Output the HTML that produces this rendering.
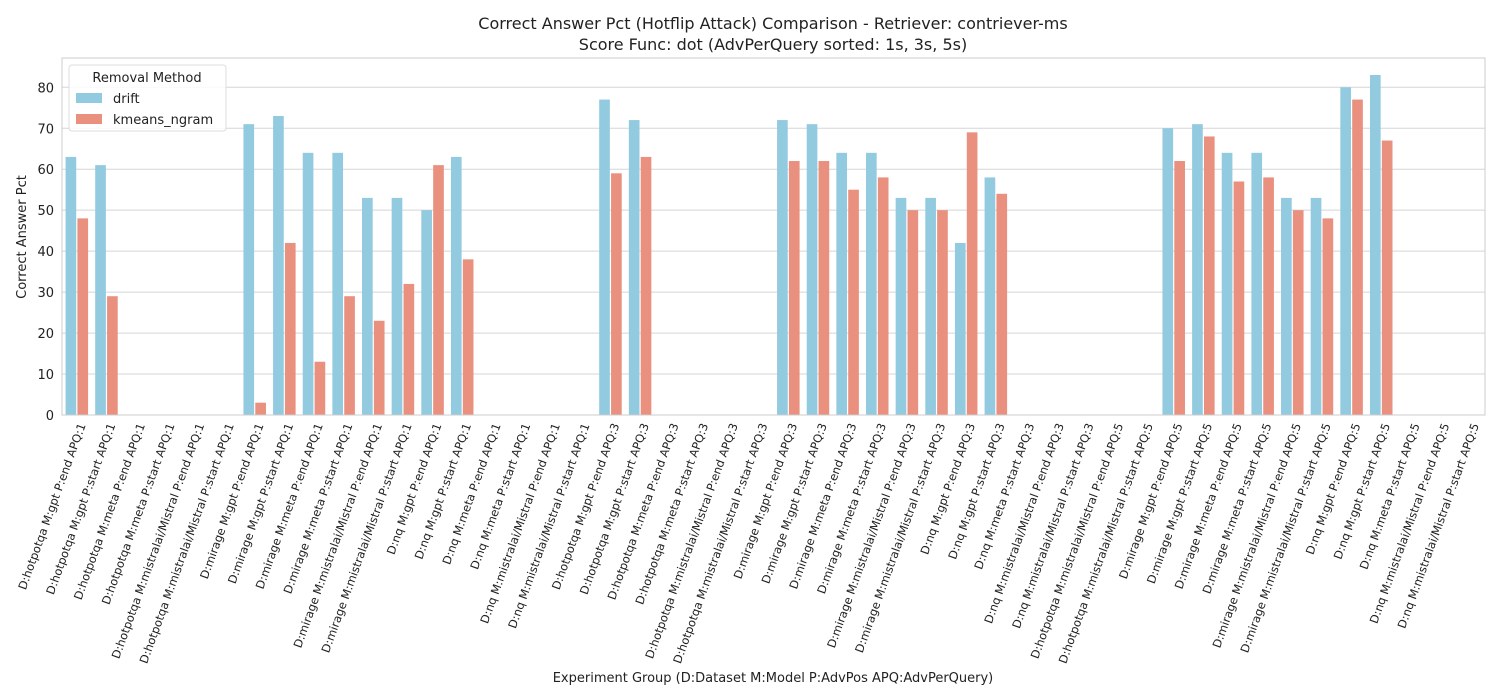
<!DOCTYPE html>
<html><head><meta charset="utf-8"><style>
body{margin:0;background:#fff;}
svg{display:block;font-family:"DejaVu Sans","Liberation Sans",sans-serif;}
</style></head><body>
<svg id="chart" width="1500" height="700" xmlns="http://www.w3.org/2000/svg">
<text x="773" y="29" font-size="16" text-anchor="middle" fill="#222">Correct Answer Pct (Hotflip Attack) Comparison - Retriever: contriever-ms</text>
<text x="773" y="50" font-size="16" text-anchor="middle" fill="#222">Score Func: dot (AdvPerQuery sorted: 1s, 3s, 5s)</text>
<g id="grid"></g><g id="bars"></g><g id="xt"></g><g id="yt"></g>
<rect x="62" y="58" width="1423" height="357" fill="none" stroke="#ccc"/>
<text transform="translate(26,237) rotate(-90)" font-size="13" text-anchor="middle" fill="#222">Correct Answer Pct</text>
<text x="773" y="682" font-size="13" text-anchor="middle" fill="#222">Experiment Group (D:Dataset M:Model P:AdvPos APQ:AdvPerQuery)</text>
<g>
<rect x="69" y="65" width="157" height="66" rx="3" fill="#fff" fill-opacity="0.85" stroke="#ddd"/>
<text x="147" y="82" font-size="13" text-anchor="middle" fill="#222">Removal Method</text>
<rect x="76" y="93" width="26" height="10" fill="#92cae0"/>
<text x="113" y="103" font-size="13" fill="#222">drift</text>
<rect x="76" y="114" width="26" height="10" fill="#e9907f"/>
<text x="113" y="124" font-size="13" fill="#222">kmeans_ngram</text>
</g>
</svg>
<script>
const categories=[
"D:hotpotqa M:gpt P:end APQ:1","D:hotpotqa M:gpt P:start APQ:1","D:hotpotqa M:meta P:end APQ:1","D:hotpotqa M:meta P:start APQ:1","D:hotpotqa M:mistralai/Mistral P:end APQ:1","D:hotpotqa M:mistralai/Mistral P:start APQ:1",
"D:mirage M:gpt P:end APQ:1","D:mirage M:gpt P:start APQ:1","D:mirage M:meta P:end APQ:1","D:mirage M:meta P:start APQ:1","D:mirage M:mistralai/Mistral P:end APQ:1","D:mirage M:mistralai/Mistral P:start APQ:1",
"D:nq M:gpt P:end APQ:1","D:nq M:gpt P:start APQ:1","D:nq M:meta P:end APQ:1","D:nq M:meta P:start APQ:1","D:nq M:mistralai/Mistral P:end APQ:1","D:nq M:mistralai/Mistral P:start APQ:1",
"D:hotpotqa M:gpt P:end APQ:3","D:hotpotqa M:gpt P:start APQ:3","D:hotpotqa M:meta P:end APQ:3","D:hotpotqa M:meta P:start APQ:3","D:hotpotqa M:mistralai/Mistral P:end APQ:3","D:hotpotqa M:mistralai/Mistral P:start APQ:3",
"D:mirage M:gpt P:end APQ:3","D:mirage M:gpt P:start APQ:3","D:mirage M:meta P:end APQ:3","D:mirage M:meta P:start APQ:3","D:mirage M:mistralai/Mistral P:end APQ:3","D:mirage M:mistralai/Mistral P:start APQ:3",
"D:nq M:gpt P:end APQ:3","D:nq M:gpt P:start APQ:3","D:nq M:meta P:start APQ:3","D:nq M:mistralai/Mistral P:end APQ:3","D:nq M:mistralai/Mistral P:start APQ:3",
"D:hotpotqa M:mistralai/Mistral P:end APQ:5","D:hotpotqa M:mistralai/Mistral P:start APQ:5",
"D:mirage M:gpt P:end APQ:5","D:mirage M:gpt P:start APQ:5","D:mirage M:meta P:end APQ:5","D:mirage M:meta P:start APQ:5","D:mirage M:mistralai/Mistral P:end APQ:5","D:mirage M:mistralai/Mistral P:start APQ:5",
"D:nq M:gpt P:end APQ:5","D:nq M:gpt P:start APQ:5","D:nq M:meta P:start APQ:5","D:nq M:mistralai/Mistral P:end APQ:5","D:nq M:mistralai/Mistral P:start APQ:5"];
const driftValues=[63,61,0,0,0,0,71,73,64,64,53,53,50,63,0,0,0,0,77,72,0,0,0,0,72,71,64,64,53,53,42,58,0,0,0,0,0,70,71,64,64,53,53,80,83,0,0,0];
const kmeansValues=[48,29,0,0,0,0,3,42,13,29,23,32,61,38,0,0,0,0,59,63,0,0,0,0,62,62,55,58,50,50,69,54,0,0,0,0,0,62,68,57,58,50,48,77,67,0,0,0];
const yTicks=[0,10,20,30,40,50,60,70,80];
const NS="http://www.w3.org/2000/svg";
const X0=62,X1=1485,Y0=415,YT=58,YMAX=87.15;
const bw=(X1-X0)/categories.length;
const xc=i=>X0+(i+0.5)*bw;
const ys=v=>Y0-(v/YMAX)*(Y0-YT);
function mk(tag,attrs,parent){const e=document.createElementNS(NS,tag);for(const k in attrs)e.setAttribute(k,attrs[k]);document.getElementById(parent).appendChild(e);return e;}
yTicks.forEach(t=>{
  const l=mk('line',{x1:X0,x2:X1,y1:ys(t),y2:ys(t),stroke:'#d5d5d5'},'grid');
  
  
  const tx=mk('text',{x:54,y:ys(t)+5,'font-size':13,'text-anchor':'end',fill:'#222'},'yt');
  tx.textContent=t;
  
  
});
const w=bw*0.4;
categories.forEach((c,i)=>{
  [[driftValues[i],'#92cae0',-1,'bar-drift'],[kmeansValues[i],'#e9907f',0,'bar-kmeans']].forEach(([v,col,off,nm])=>{
    const r=mk('rect',{x:xc(i)+off*w+0.6,y:ys(v),width:w-1.2,height:Y0-ys(v),fill:col},'bars');
    
    
  });
  const t=mk('text',{transform:`translate(${xc(i)+9},425) rotate(-70)`,'font-size':11.5,'text-anchor':'end',fill:'#222'},'xt');
  t.textContent=c;
  
  
});
</script>
</body></html>
